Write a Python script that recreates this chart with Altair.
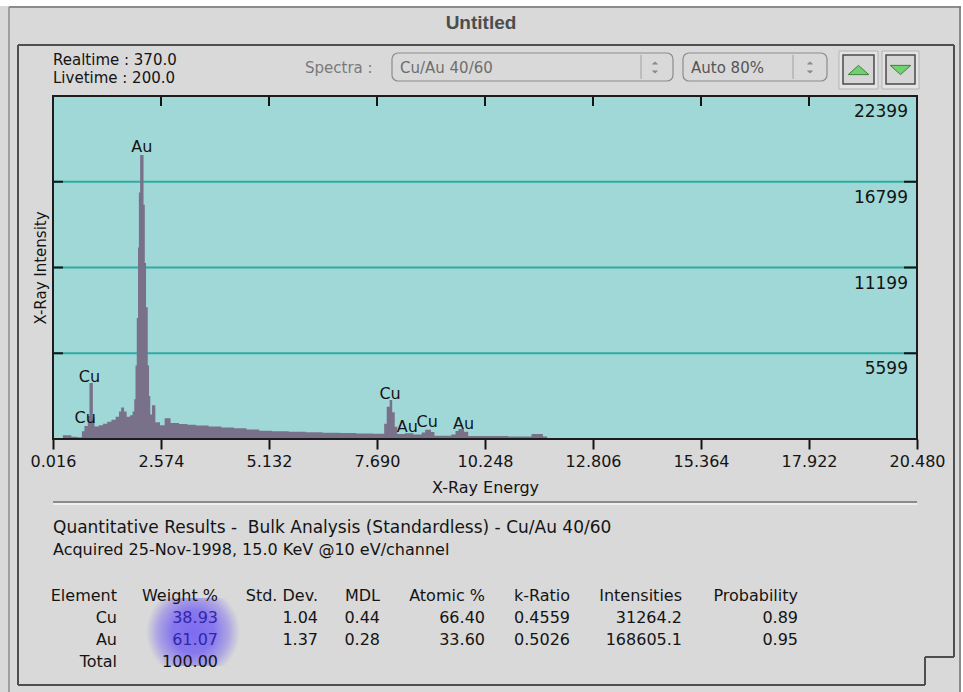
import altair as alt
import pandas as pd

# ---------------------------------------------------------------- data
# EDS spectrum: energy (keV) where each channel group starts, and its counts
energy_kev = [0.016, 0.25, 0.45, 0.58, 0.70, 0.76, 0.84, 0.88, 0.96, 1.00,
              1.10, 1.20, 1.30, 1.40, 1.50, 1.58, 1.63, 1.70, 1.76, 1.84,
              1.90, 1.94, 1.97, 2.00, 2.03, 2.05, 2.08, 2.16, 2.19, 2.22,
              2.26, 2.29, 2.32, 2.36, 2.44, 2.55, 2.66, 2.80, 3.00, 3.20,
              3.40, 3.70, 4.00, 4.30, 4.60, 4.90, 5.20, 5.60, 6.00, 6.40,
              6.80, 7.20, 7.60, 7.86, 7.92, 7.99, 8.05, 8.11, 8.17, 8.35,
              8.55, 8.75, 8.83, 8.97, 9.05, 9.45, 9.55, 9.62, 9.75, 9.85,
              10.80, 11.35, 11.62, 11.72, 20.48]
counts = [0, 250, 150, 110, 500, 850, 1500, 3650, 1400, 820,
          900, 1000, 1120, 1250, 1450, 1800, 2050, 1800, 1450, 1550,
          1800, 2600, 4800, 7900, 12500, 16100, 18550, 15300, 11500, 8600,
          4800, 2800, 1600, 2200, 1100, 900, 1350, 1050, 980, 930,
          880, 820, 750, 700, 620, 540, 500, 470, 440, 410,
          390, 360, 340, 1000, 2100, 2550, 1750, 800, 330, 380,
          300, 430, 600, 450, 220, 300, 520, 660, 480, 200,
          170, 330, 170, 0, 0]

x_ticks = [0.016, 2.574, 5.132, 7.690, 10.248, 12.806, 15.364, 17.922, 20.480]
y_levels = [5599, 11199, 16799, 22399]
y_max = 22399

# peak identifications (energy, label anchor height, element)
peak_energy = [0.78, 0.88, 2.12, 8.00, 8.41, 8.88, 9.74]
peak_anchor = [980, 3650, 18650, 2550, 390, 720, 590]
peak_name = ["Cu", "Cu", "Au", "Cu", "Au", "Cu", "Au"]

# quantitative results table
elements = ["Cu", "Au"]
weight_pct = [38.93, 61.07]
std_dev = [1.04, 1.37]
mdl = [0.44, 0.28]
atomic_pct = [66.40, 33.60]
k_ratio = [0.4559, 0.5026]
intensities = [31264.2, 168605.1]
probability = [0.89, 0.95]

# ---------------------------------------------------------------- layout
OX, OY = 53, 96        # top-left corner of the spectrum frame on the page
W, H = 864, 343        # spectrum frame size
PAGE_W, PAGE_H = 963, 692

FONT = "DejaVu Sans"
TITLE_FONT = "Liberation Sans"
BG = "#d9d9d9"
INK = "#141414"

one = pd.DataFrame({"k": [0]})


def px(x):
    return x - OX


def py(y):
    return y - OY


def box(x1, y1, x2, y2, fill=None, stroke=None, sw=1.0, r=0):
    props = {"cornerRadius": r, "strokeWidth": sw}
    if fill is None:
        props["fillOpacity"] = 0
    else:
        props["fill"] = fill
    if stroke is not None:
        props["stroke"] = stroke
    return alt.Chart(one).mark_rect(**props).encode(
        x=alt.value(px(x1)), x2=alt.value(px(x2)),
        y=alt.value(py(y1)), y2=alt.value(py(y2)))


def seg(x1, y1, x2, y2, color, sw=1.0):
    return alt.Chart(one).mark_rule(color=color, strokeWidth=sw).encode(
        x=alt.value(px(x1)), x2=alt.value(px(x2)),
        y=alt.value(py(y1)), y2=alt.value(py(y2)))


def words(x, y, s, size=16, color=INK, align="left", font=FONT,
          weight="normal", **kw):
    return alt.Chart(one).mark_text(
        text=s, align=align, baseline="alphabetic", font=font,
        fontSize=size, fontWeight=weight, color=color, **kw
    ).encode(x=alt.value(px(x)), y=alt.value(py(y)))


def tri(x, y, up, size, fill, stroke):
    shape = "M-1,0.45L1,0.45L0,-0.45Z" if up else "M-1,-0.45L1,-0.45L0,0.45Z"
    return alt.Chart(one).mark_point(
        shape=shape, filled=True, fill=fill, stroke=stroke, strokeWidth=1,
        size=size, opacity=1
    ).encode(x=alt.value(px(x)), y=alt.value(py(y)))


layers = []

# ---------------------------------------------------------------- window chrome
layers.append(box(0, 0, PAGE_W, 6, fill="#ffffff"))
layers.append(box(961, 0, PAGE_W, PAGE_H, fill="#ffffff"))
layers.append(seg(9, 7, 961, 7, "#707070", 1.5))
layers.append(seg(9, 7, 9, PAGE_H, "#8a8a8a", 1.5))
layers.append(seg(960, 7, 960, PAGE_H, "#707070", 1.5))
layers.append(words(481, 29, "Untitled", size=19, color="#4d4d4d",
                    align="center", font=TITLE_FONT, weight="bold"))

# inner panel with the size-box notch at the lower right
panel = "#4f4f4f"
for a in [(18, 45, 954, 45), (18, 45, 18, 685), (954, 45, 954, 657),
          (925, 657, 954, 657), (925, 657, 925, 685), (18, 685, 925, 685)]:
    layers.append(seg(*a, color=panel, sw=2))

# acquisition times
layers.append(words(53, 65, "Realtime : 370.0", size=15))
layers.append(words(53, 83, "Livetime : 200.0", size=15))

# spectrum selector and scale pop-ups
layers.append(words(305, 73, "Spectra :", size=15, color="#7a7a7a"))
layers.append(box(392, 53, 673, 81, stroke="#8c8c8c", sw=1.2, r=6))
layers.append(seg(641, 55, 641, 79, "#a0a0a0", 1))
layers.append(words(400, 73, "Cu/Au 40/60", size=15, color="#6e6e6e"))
layers.append(box(683, 53, 827, 81, stroke="#8c8c8c", sw=1.2, r=6))
layers.append(seg(793, 55, 793, 79, "#a0a0a0", 1))
layers.append(words(691, 73, "Auto 80%", size=15, color="#555555"))
for ax in (655, 810):
    layers.append(tri(ax, 63, True, 22, "#8c8c8c", "#8c8c8c"))
    layers.append(tri(ax, 72, False, 22, "#8c8c8c", "#8c8c8c"))

# step buttons
for (bx1, bx2, up) in [(839, 878, True), (882, 919, False)]:
    layers.append(box(bx1, 51, bx2, 89, fill="#e4e4e4", stroke="#b4b4b4", sw=1))
    layers.append(box(bx1 + 4, 55, bx2 - 4, 84, fill="#d6d6d6", stroke="#4a4a4a", sw=1.5))
    layers.append(tri((bx1 + bx2) / 2, 70, up, 420, "#72d072", "#3f7f3f"))

# ---------------------------------------------------------------- spectrum
spectrum = pd.DataFrame({"energy": energy_kev, "counts": counts})
x_scale = alt.Scale(domain=[x_ticks[0], x_ticks[-1]], nice=False, zero=False)
y_scale = alt.Scale(domain=[0, y_max], nice=False)

# one axis definition per channel, shared by every layer that uses the scale
x_axis = alt.Axis(
    values=x_ticks, format=".3f", grid=False, domain=False,
    tickSize=10, tickWidth=2, tickColor=INK, labelFlush=False,
    labelOverlap=False, labelPadding=4, labelFont=FONT, labelFontSize=16,
    labelColor=INK, title="X-Ray Energy", titleFont=FONT,
    titleFontSize=16, titleFontWeight="normal", titleColor=INK,
    titlePadding=10)
y_axis = alt.Axis(
    labels=False, ticks=False, domain=False, grid=False,
    title="X-Ray Intensity", titleFont=FONT, titleFontSize=15,
    titleFontWeight="normal", titleColor=INK, titlePadding=5)


def X(field):
    return alt.X(field, scale=x_scale, axis=x_axis)


def Y(field):
    return alt.Y(field, scale=y_scale, axis=y_axis)


layers.append(box(OX, OY, OX + W, OY + H, fill="#a0d8d7"))

grid_df = pd.DataFrame({"v": y_levels[:-1]})
layers.append(alt.Chart(grid_df).mark_rule(color="#2eaca4", strokeWidth=2).encode(
    y=Y("v:Q")))

layers.append(alt.Chart(spectrum).mark_area(
    interpolate="step-after", color="#797189", opacity=1).encode(
    x=X("energy:Q"), y=Y("counts:Q")))

# inward ticks on top, left and right edges
xt_df = pd.DataFrame({"v": x_ticks[1:-1]})
layers.append(alt.Chart(xt_df).mark_rule(color=INK, strokeWidth=2).encode(
    x=X("v:Q"), y=alt.value(0), y2=alt.value(10)))
layers.append(alt.Chart(grid_df).mark_rule(color=INK, strokeWidth=2).encode(
    y=Y("v:Q"), x=alt.value(0), x2=alt.value(10)))
layers.append(alt.Chart(grid_df).mark_rule(color=INK, strokeWidth=2).encode(
    y=Y("v:Q"), x=alt.value(W - 13), x2=alt.value(W)))

layers.append(box(OX, OY, OX + W, OY + H, stroke="#1c1c1c", sw=2))

# intensity labels, printed just under each level
ylab_df = pd.DataFrame({"v": y_levels})
layers.append(alt.Chart(ylab_df).mark_text(
    align="right", baseline="middle", dy=16, font=FONT, fontSize=17, color=INK).encode(
    y=Y("v:Q"), x=alt.value(W - 9), text=alt.Text("v:Q", format="d")))

# peak identifications
peaks = pd.DataFrame({"e": peak_energy, "c": peak_anchor, "t": peak_name})
layers.append(alt.Chart(peaks).mark_text(
    align="center", baseline="alphabetic", dy=-1, font=FONT, fontSize=16,
    color=INK).encode(x=X("e:Q"), y=Y("c:Q"), text="t:N"))

# ---------------------------------------------------------------- results text
layers.append(seg(53, 502, 917, 502, "#8a8a8a", 2))
layers.append(seg(53, 504, 917, 504, "#f4f4f4", 1.5))
layers.append(words(53, 533, "Quantitative Results -\u00a0 Bulk Analysis (Standardless) - Cu/Au 40/60",
                    size=17))
layers.append(words(53, 555, "Acquired 25-Nov-1998, 15.0 KeV @10 eV/channel"))

# highlight behind the weight percentages
glow = alt.RadialGradient(
    gradient="radial",
    stops=[alt.GradientStop(color="#7d6cf2", offset=0),
           alt.GradientStop(color="#8878ee", offset=0.45),
           alt.GradientStop(color="#aca4e2", offset=0.75),
           alt.GradientStop(color=BG, offset=1)])
layers.append(alt.Chart(one).mark_rect(fill=glow).encode(
    x=alt.value(px(146)), x2=alt.value(px(240)),
    y=alt.value(py(598)), y2=alt.value(py(666))))

LINE = 22
TOP = 601


def column(x_right, lines, color=INK, top=TOP):
    return alt.Chart(one).mark_text(
        text="\n".join(lines), lineBreak="\n", lineHeight=LINE, align="right",
        baseline="alphabetic", font=FONT, fontSize=16, color=color).encode(
        x=alt.value(px(x_right)), y=alt.value(py(top)))


layers.append(column(117, ["Element"] + elements + ["Total"]))
layers.append(column(218, ["Weight %"]))
layers.append(column(218, [f"{v:.2f}" for v in weight_pct], color="#3326a6", top=TOP + LINE))
layers.append(column(218, [f"{sum(weight_pct):.2f}"], top=TOP + 3 * LINE))
layers.append(column(318, ["Std. Dev."] + [f"{v:.2f}" for v in std_dev]))
layers.append(column(380, ["MDL"] + [f"{v:.2f}" for v in mdl]))
layers.append(column(485, ["Atomic %"] + [f"{v:.2f}" for v in atomic_pct]))
layers.append(column(570, ["k-Ratio"] + [f"{v:.4f}" for v in k_ratio]))
layers.append(column(682, ["Intensities"] + [f"{v:.1f}" for v in intensities]))
layers.append(column(798, ["Probability"] + [f"{v:.2f}" for v in probability]))

chart = alt.layer(*layers).properties(
    width=W, height=H, background=BG,
    padding={"left": OX, "top": OY, "right": PAGE_W - OX - W,
             "bottom": PAGE_H - OY - H},
    autosize=alt.AutoSizeParams(type="none"),
).configure_view(stroke=None, fill=None)

chart.save("out.html", embed_options={"renderer": "svg", "actions": False})
